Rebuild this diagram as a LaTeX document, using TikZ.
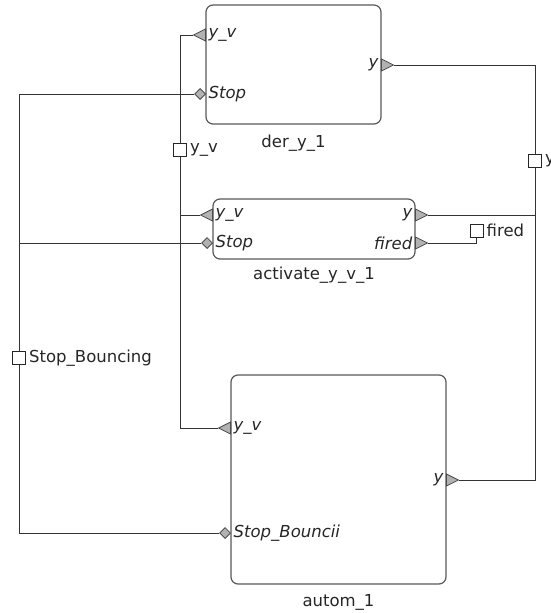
\documentclass[tikz,border=0pt]{standalone}
\usepackage{fontspec}
\setmainfont{DejaVu Sans}
\usetikzlibrary{shapes.geometric, positioning}

\begin{document}
\begin{tikzpicture}[
  x=1pt, y=-1pt,
  every node/.style={font=\fontsize{16.5}{19}\selectfont, text=black!85},
  block/.style={rectangle, draw=black!65, line width=1.2pt, rounded corners=7pt, fill=white, inner sep=0pt},
  inport/.style={isosceles triangle, isosceles triangle stretches, shape border rotate=180,
    minimum width=12pt, minimum height=12pt, inner sep=0pt, draw=black!70, fill=black!30, line width=0.8pt},
  outport/.style={isosceles triangle, isosceles triangle stretches,
    minimum width=12pt, minimum height=12pt, inner sep=0pt, draw=black!70, fill=black!30, line width=0.8pt},
  ctrlport/.style={diamond, minimum size=11pt, inner sep=0pt, draw=black!70, fill=black!30, line width=0.8pt},
  pname/.style={font=\fontsize{16.5}{19}\selectfont\itshape, inner sep=1.5pt},
  linklabel/.style={rectangle, draw=black!85, fill=white, minimum size=13pt, inner sep=0pt, line width=1pt},
  link/.style={draw=black!80, line width=1pt}
]
\useasboundingbox (0,0) rectangle (551,613);

% Blocks
\node[block, minimum width=175pt, minimum height=119pt] (der) at (293.5,64.5) {};
\node[block, minimum width=202pt, minimum height=60pt] (act) at (314,229) {};
\node[block, minimum width=215pt, minimum height=209pt] (autom) at (338.5,479.5) {};

\node[below=7pt of der] (der_t) {der\_y\_1};
\node[below=4pt of act] (act_t) {activate\_y\_v\_1};
\node[below=6pt of autom] (autom_t) {autom\_1};

% Ports
\node[inport, anchor=east] (der_yv) at (206,35) {};
\node[ctrlport, anchor=east] (der_stop) at (206,94) {};
\node[outport, anchor=west] (der_y) at (381,65) {};

\node[inport, anchor=east] (act_yv) at (213,215) {};
\node[ctrlport, anchor=east] (act_stop) at (213,243) {};
\node[outport, anchor=west] (act_y) at (415,215) {};
\node[outport, anchor=west] (act_fired) at (415,243) {};

\node[inport, anchor=east] (autom_yv) at (231,428) {};
\node[ctrlport, anchor=east] (autom_stop) at (231,533) {};
\node[outport, anchor=west] (autom_y) at (446,480) {};

\node[pname, right=1pt of der_yv] (der_yv_t) {y\_v};
\node[pname, right=1pt of der_stop] (der_stop_t) {Stop};
\node[pname, left=1pt of der_y] (der_y_t) {y};
\node[pname, right=1pt of act_yv] (act_yv_t) {y\_v};
\node[pname, right=1pt of act_stop] (act_stop_t) {Stop};
\node[pname, left=1pt of act_y] (act_y_t) {y};
\node[pname, left=1pt of act_fired] (act_fired_t) {fired};
\node[pname, right=1pt of autom_yv] (autom_yv_t) {y\_v};
\node[pname, right=1pt of autom_stop] (autom_stop_t) {Stop\_Bouncii};
\node[pname, left=1pt of autom_y] (autom_y_t) {y};

% Link labels
\node[linklabel] (lab_yv) at (180,150) {};
\node[linklabel] (lab_stop) at (19,358) {};
\node[linklabel] (lab_y) at (535,160.5) {};
\node[linklabel] (lab_fired) at (476.5,230.5) {};

\node[right=1pt of lab_yv, inner sep=2pt] (lab_yv_t) {y\_v};
\node[right=1pt of lab_stop, inner sep=2pt] (lab_stop_t) {Stop\_Bouncing};
\node[right=1pt of lab_y, inner sep=2pt] (lab_y_t) {y};
\node[right=1pt of lab_fired, inner sep=2pt] (lab_fired_t) {fired};

% Links
\draw[link] (der_yv.west) -| (lab_yv.north);
\draw[link] (lab_yv.south) |- (autom_yv.west);
\draw[link] (act_yv.west) -- (act_yv.west -| lab_yv.south);

\draw[link] (der_stop.west) -| (lab_stop.north);
\draw[link] (lab_stop.south) |- (autom_stop.west);
\draw[link] (act_stop.west) -- (act_stop.west -| lab_stop.north);

\draw[link] (der_y.east) -| (lab_y.north);
\draw[link] (lab_y.south) |- (autom_y.east);
\draw[link] (act_y.east) -- (act_y.east -| lab_y.south);

\draw[link] (act_fired.east) -| (lab_fired.south);

\end{tikzpicture}
\end{document}
